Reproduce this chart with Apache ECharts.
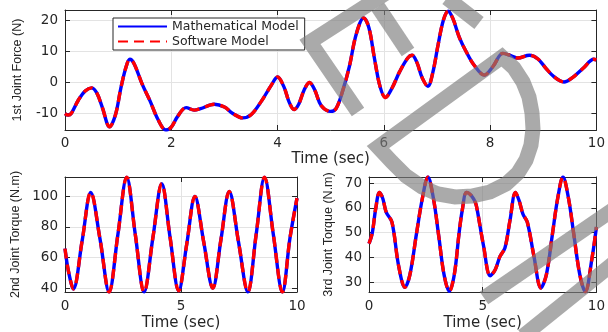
<!DOCTYPE html>
<html>
<head>
<meta charset="utf-8">
<script src="https://cdn.jsdelivr.net/npm/echarts@6/dist/echarts.min.js"></script>
<style>html,body{margin:0;padding:0;background:#fff}#c{width:608px;height:332px}</style>
</head>
<body>
<div id="c"></div>
<script>
// ---- data ----
const forceTime = [0.00,0.06,0.12,0.25,0.38,0.50,0.60,0.70,0.84,0.95,1.05,1.15,1.22,1.30,1.45,1.60,1.75,1.90,2.00,2.12,2.28,2.43,2.55,2.81,3.00,3.15,3.34,3.50,3.70,3.88,4.00,4.12,4.22,4.31,4.40,4.50,4.60,4.70,4.82,5.00,5.10,5.22,5.35,5.48,5.62,5.72,5.82,5.93,6.03,6.15,6.30,6.45,6.53,6.62,6.72,6.83,6.92,7.02,7.12,7.21,7.30,7.42,7.56,7.70,7.89,8.05,8.24,8.40,8.52,8.74,8.90,9.05,9.20,9.39,9.55,9.75,9.95,10.0];
const forceValue = [-10.1,-10.6,-10.0,-5.8,-2.8,-1.8,-3.5,-8.0,-14.4,-10.5,-2.0,5.0,7.4,6.0,-0.5,-6.0,-12.0,-15.4,-14.5,-11.0,-8.2,-9.0,-8.5,-7.1,-8.0,-10.0,-11.5,-10.5,-6.0,-1.0,1.7,-1.5,-6.5,-8.8,-7.0,-2.5,-0.1,-2.5,-7.5,-9.4,-8.5,-3.1,5.0,15.5,20.7,17.5,8.0,-1.5,-4.9,-2.0,3.5,7.8,8.7,6.5,1.5,-1.3,3.0,12.0,20.0,22.9,20.5,14.5,9.5,5.5,2.3,5.0,9.3,8.5,7.8,8.7,7.5,4.5,1.8,0.1,1.5,4.5,7.4,7.2];

const torque2Time = [0,0.15,0.36,0.74,1.11,1.51,1.90,2.28,2.66,3.03,3.41,3.79,4.17,4.53,4.90,5.25,5.60,5.98,6.37,6.72,7.08,7.48,7.88,8.24,8.60,8.98,9.37,9.70,10];
const torque2Value = [65.8,51,39.5,71,102.5,72,37.5,75,112.4,75,37.5,73,108.2,73,38.3,69,99.8,70,40,71.5,103,70,37.5,75,112.4,75,37.5,73,98.7];

const torque3Time = [0,0.14,0.30,0.46,0.60,0.76,1.01,1.30,1.58,1.80,2.09,2.35,2.59,2.83,3.07,3.30,3.53,3.75,3.96,4.10,4.29,4.50,4.68,4.76,5.04,5.33,5.55,5.76,5.98,6.20,6.44,6.60,6.77,6.96,7.25,7.56,7.80,8.07,8.30,8.53,8.77,9.00,9.27,9.51,9.80,10];
const torque3Value = [45.6,49.7,60,66.3,64,58.2,54.3,36.7,27.9,33,49.7,64,72.5,64,48.4,33,26.3,33,49.7,59,66.3,65,62.1,59.1,44.5,32.6,35,40.4,43.9,55,66.3,63,57.5,54.3,40.6,27.6,33,49.7,64,72.5,64,49.7,33,26.1,39.3,52.3];

const seriesNames = ['Mathematical Model', 'Software Model'];
const xName = 'Time (sec)';
const yNames = ['1st Joint Force (N)', '2nd Joint Torque (N.m)', '3rd Joint Torque (N.m)'];

function pairs(t, v) { return t.map((x, i) => [x, v[i]]); }

const dark = '#262626';
const tickFont = 'DejaVu Sans';
const grids = [
  {left: 65, top: 10, width: 536, height: 120},
  {left: 65, top: 177, width: 232, height: 119},
  {left: 369, top: 177, width: 231, height: 119}
];
const xCfg = [
  {interval: 2, margin: 6, gap: 22},
  {interval: 5, margin: 7, gap: 24},
  {interval: 5, margin: 7, gap: 24}
];
const yCfg = [
  {min: -15.4, max: 23.3, split: 4, step: 10, gap: 41},
  {min: 37.5, max: 112.5, split: 4, step: 20, gap: 43},
  {min: 26, max: 72.5, split: 5, step: 10, gap: 34}
];
const datasets = [pairs(forceTime, forceValue), pairs(torque2Time, torque2Value), pairs(torque3Time, torque3Value)];

const lineCommon = {show: true, onZero: false, lineStyle: {color: dark, width: 1}};
const tickCommon = {show: true, inside: true, length: 5, lineStyle: {color: dark}};

const xAxis = [], yAxis = [], series = [];
grids.forEach((g, i) => {
  const xc = xCfg[i];
  xAxis.push({
    type: 'value', gridIndex: i, min: 0, max: 10, interval: xc.interval, position: 'bottom',
    name: xName, nameLocation: 'middle', nameGap: xc.gap,
    nameTextStyle: {fontFamily: tickFont, fontSize: 15, color: dark},
    axisLine: lineCommon, axisTick: tickCommon,
    axisLabel: {fontFamily: tickFont, fontSize: 13.5, color: dark, margin: xc.margin},
    splitLine: {show: true, lineStyle: {color: '#e3e3e3', width: 1}}
  });
  xAxis.push({
    type: 'value', gridIndex: i, min: 0, max: 10, interval: xc.interval, position: 'top',
    axisLine: lineCommon, axisTick: tickCommon,
    axisLabel: {show: false}, splitLine: {show: false}
  });
  const yc = yCfg[i];
  const fmt = v => (Math.abs(Math.round(v / yc.step) * yc.step - v) < 1e-6 ? String(Math.round(v)) : '');
  yAxis.push({
    type: 'value', gridIndex: i, min: yc.min, max: yc.max, splitNumber: yc.split, position: 'left',
    name: yNames[i], nameLocation: 'middle', nameGap: yc.gap,
    nameTextStyle: {fontFamily: 'Liberation Sans', fontSize: 12.5, color: dark},
    axisLine: lineCommon, axisTick: tickCommon,
    axisLabel: {fontFamily: tickFont, fontSize: 13.5, color: dark, margin: 7, formatter: fmt},
    splitLine: {show: true, lineStyle: {color: '#e3e3e3', width: 1}}
  });
  yAxis.push({
    type: 'value', gridIndex: i, min: yc.min, max: yc.max, splitNumber: yc.split, position: 'right',
    axisLine: lineCommon, axisTick: tickCommon,
    axisLabel: {show: false}, splitLine: {show: false}
  });
  series.push({
    type: 'line', name: seriesNames[0], xAxisIndex: 2 * i, yAxisIndex: 2 * i,
    data: datasets[i], symbol: 'none', smooth: 0.35, animation: false,
    itemStyle: {color: '#0000ff'}, lineStyle: {color: '#0000ff', width: 3.4}
  });
  series.push({
    type: 'line', name: seriesNames[1], xAxisIndex: 2 * i, yAxisIndex: 2 * i,
    data: datasets[i], symbol: 'none', smooth: 0.35, animation: false,
    itemStyle: {color: '#ff0000'}, lineStyle: {color: '#ff0000', width: 3.4, type: [10, 6]}
  });
});

const wm = {stroke: 'rgba(124,124,124,0.65)', lineWidth: 15, fill: null, lineJoin: 'miter'};
const graphic = [
  {type: 'polyline', z: 100, silent: true, shape: {points: [[358,112],[310,42],[425,-32]]}, style: wm},
  {type: 'polyline', z: 100, silent: true, shape: {points: [[378,7],[408,52]]}, style: wm},
  {type: 'polyline', z: 100, silent: true, shape: {points: [[447,-2],[479,23]]}, style: wm},
  {type: 'polygon', z: 100, silent: true, shape: {points: [[378,147],[502,57],[514,68],[523,82],[529,97],[532,113],[533,129],[531,145],[526,160],[518,173],[506,184],[490,192],[472,196],[455,197],[438,194],[422,187],[406,176],[392,162]]}, style: wm},
  {type: 'polyline', z: 100, silent: true, shape: {points: [[484,298],[620,205]]}, style: wm},
  {type: 'polyline', z: 100, silent: true, shape: {points: [[523,336],[620,258]]}, style: wm}
];

const chart = echarts.init(document.getElementById('c'), null, {renderer: 'canvas'});
chart.setOption({
  animation: false,
  backgroundColor: '#fff',
  grid: grids,
  legend: {
    data: seriesNames, orient: 'vertical', left: 113, top: 18,
    itemWidth: 49, itemHeight: 12, itemGap: 2, padding: [2, 6, 2, 4],
    backgroundColor: '#fff', borderColor: dark, borderWidth: 1,
    itemStyle: {opacity: 0, borderWidth: 0},
    textStyle: {fontFamily: tickFont, fontSize: 12.5, color: dark, lineHeight: 12}
  },
  xAxis: xAxis,
  yAxis: yAxis,
  series: series,
  graphic: graphic
});
</script>
</body>
</html>
